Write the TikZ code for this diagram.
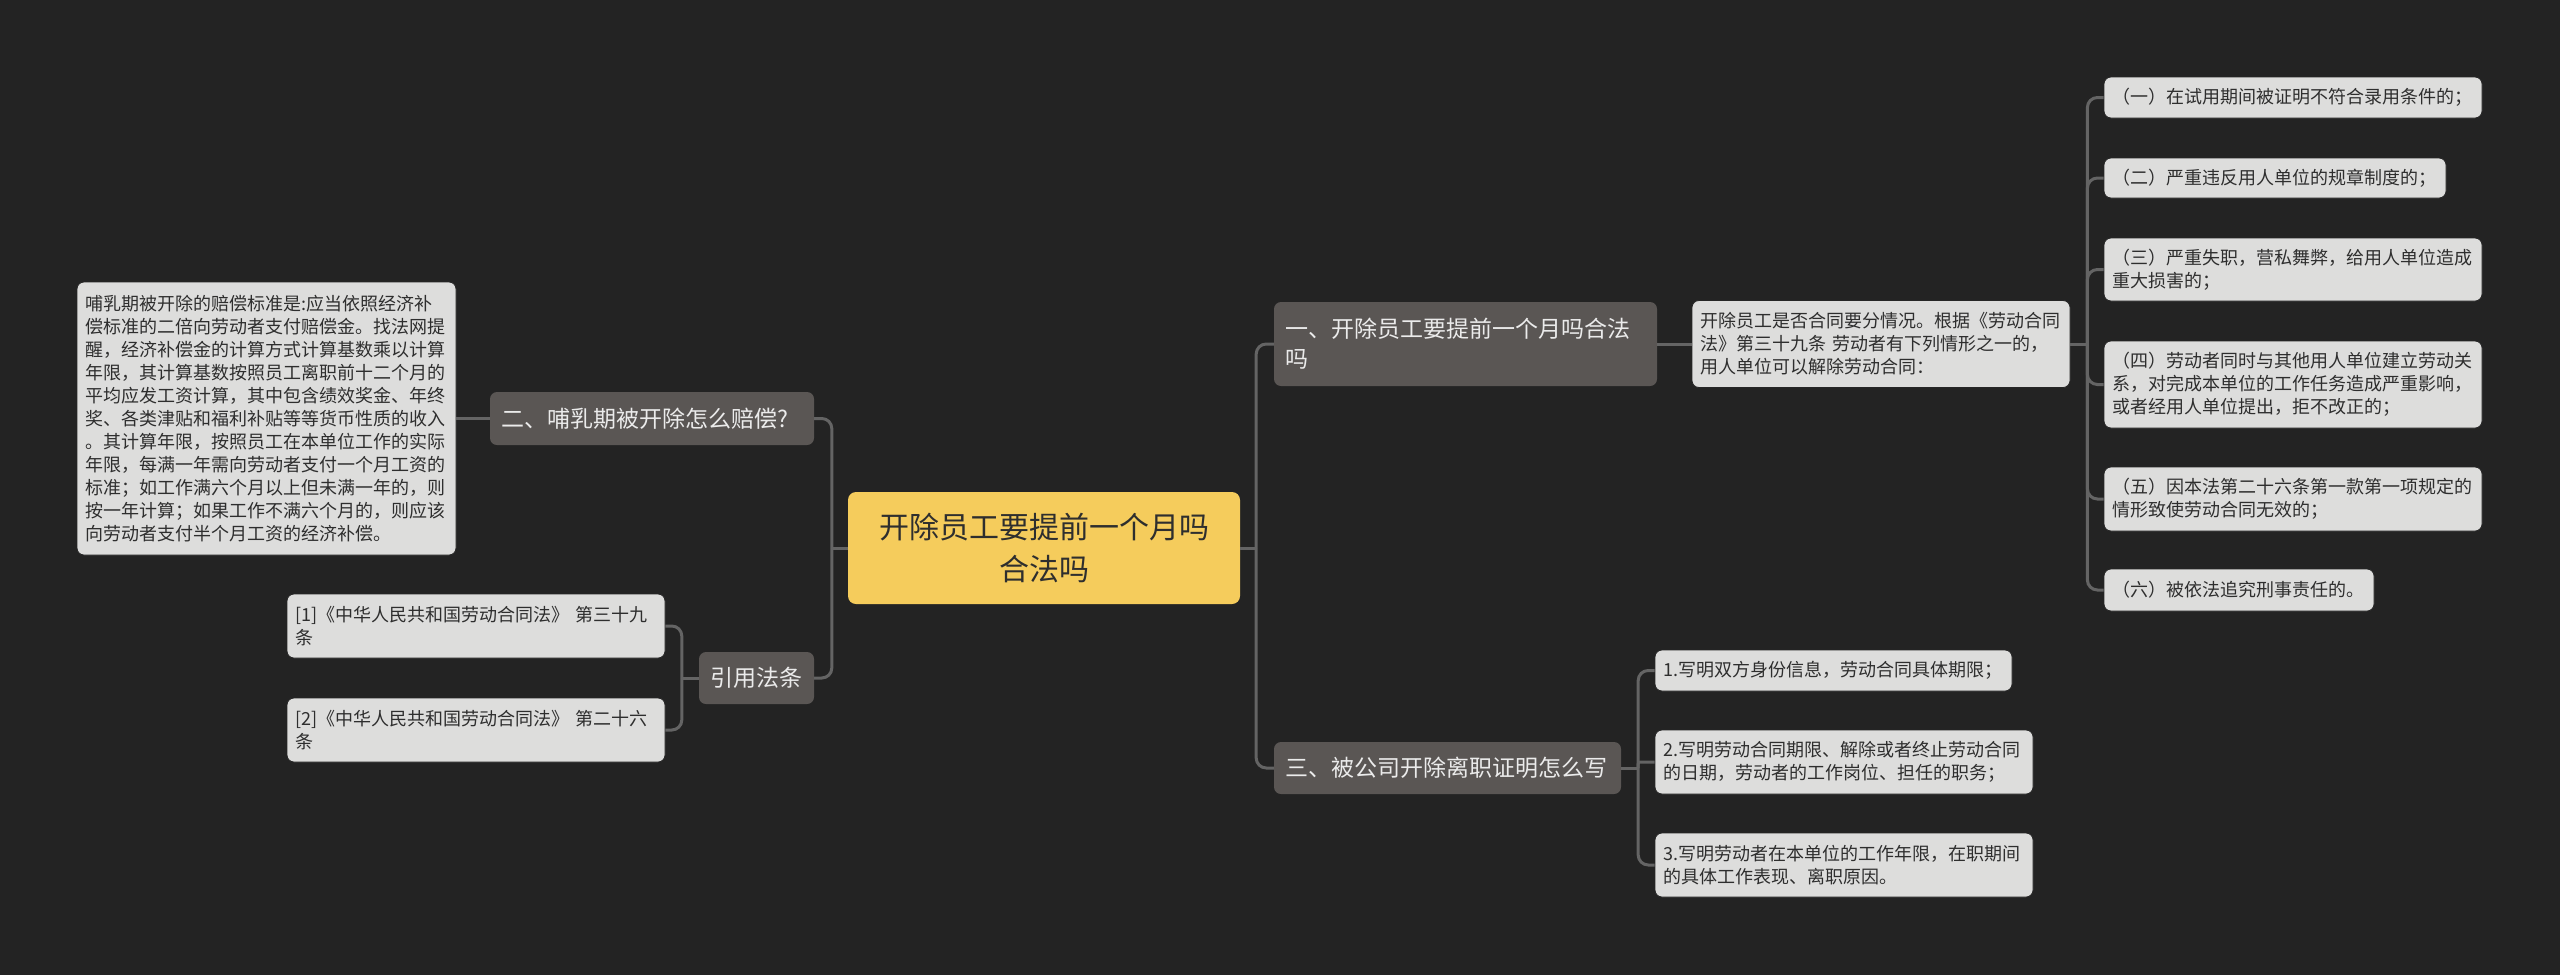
\documentclass[tikz,border=0pt]{standalone}
\usepackage{fontspec}
\newfontfamily\cjk{Noto Sans CJK SC}
\definecolor{canvas}{HTML}{232323}
\definecolor{wirec}{HTML}{646464}
\definecolor{hubc}{HTML}{F5CC5C}
\definecolor{branchc}{HTML}{5A5654}
\definecolor{notec}{HTML}{DDDDDC}
\definecolor{inkc}{HTML}{2E2E2E}

\begin{document}
\begin{tikzpicture}[
  x=1pt, y=-1pt,
  font=\cjk,
  wire/.style={draw=wirec, line width=3pt, rounded corners=10pt},
  hub/.style={fill=hubc, rounded corners=8pt, text=inkc, align=center,
    inner xsep=20pt, text width=352pt, minimum height=112pt,
    font=\cjk\fontsize{30}{42}\selectfont},
  branch/.style 2 args={fill=branchc, rounded corners=7pt, text=white!92!black,
    align=left, inner xsep=11pt, text width=#1, minimum height=#2,
    font=\cjk\fontsize{23}{30}\selectfont},
  note/.style 2 args={fill=notec, draw=black!85, line width=0.8pt,
    rounded corners=7pt, text=inkc, align=left, inner xsep=8pt,
    text width=#1, minimum height=#2, font=\cjk\fontsize{18}{23}\selectfont},
]
  % canvas
  \useasboundingbox (0,0) rectangle (2560,975);
  \fill[canvas] (0,0) rectangle (2560,975);

  % central topic
  \node[hub] (hub) at (1044,548) {开除员工要提前一个月吗\\合法吗};

  % right side: first topic and its clauses
  \node[branch={361pt}{84pt}] (s1) at (1465.5,344) {一、开除员工要提前一个月吗合法\\吗};
  \node[note={362pt}{87pt}] (s1d) at (1881,344)
    {开除员工是否合同要分情况。根据《劳动合同\\法》第三十九条~劳动者有下列情形之一的，\\用人单位可以解除劳动合同：};
  \node[note={362pt}{41pt}] (r1) at (2293,97.5) {（一）在试用期间被证明不符合录用条件的；};
  \node[note={326pt}{40pt}] (r2) at (2275,178) {（二）严重违反用人单位的规章制度的；};
  \node[note={362pt}{63pt}] (r3) at (2293,269.5) {（三）严重失职，营私舞弊，给用人单位造成\\重大损害的；};
  \node[note={362pt}{87pt}] (r4) at (2293,384.5)
    {（四）劳动者同时与其他用人单位建立劳动关\\系，对完成本单位的工作任务造成严重影响，\\或者经用人单位提出，拒不改正的；};
  \node[note={362pt}{64pt}] (r5) at (2293,499) {（五）因本法第二十六条第一款第一项规定的\\情形致使劳动合同无效的；};
  \node[note={254pt}{42pt}] (r6) at (2239,590) {（六）被依法追究刑事责任的。};

  % right side: third topic
  \node[branch={325pt}{52pt}] (s3) at (1447.5,768) {三、被公司开除离职证明怎么写};
  \node[note={341pt}{41pt}] (s3a) at (1833.5,670.5) {1.写明双方身份信息，劳动合同具体期限；};
  \node[note={362pt}{64pt}] (s3b) at (1844,762) {2.写明劳动合同期限、解除或者终止劳动合同\\的日期，劳动者的工作岗位、担任的职务；};
  \node[note={362pt}{64pt}] (s3c) at (1844,865) {3.写明劳动者在本单位的工作年限，在职期间\\的具体工作表现、离职原因。};

  % left side
  \node[branch={302pt}{53pt}] (s2) at (652,418.5) {二、哺乳期被开除怎么赔偿?};
  \node[note={363pt}{273pt}] (s2d) at (266.5,418.5)
    {哺乳期被开除的赔偿标准是:应当依照经济补\\偿标准的二倍向劳动者支付赔偿金。找法网提\\醒，经济补偿金的计算方式计算基数乘以计算\\年限，其计算基数按照员工离职前十二个月的\\平均应发工资计算，其中包含绩效奖金、年终\\奖、各类津贴和福利补贴等等货币性质的收入\\。其计算年限，按照员工在本单位工作的实际\\年限，每满一年需向劳动者支付一个月工资的\\标准；如工作满六个月以上但未满一年的，则\\按一年计算；如果工作不满六个月的，则应该\\向劳动者支付半个月工资的经济补偿。};
  \node[branch={93pt}{52pt}] (law) at (756.5,678) {引用法条};
  \node[note={362pt}{64pt}] (law1) at (476,626) {[1]《中华人民共和国劳动合同法》~第三十九\\条};
  \node[note={362pt}{64pt}] (law2) at (476,730) {[2]《中华人民共和国劳动合同法》~第二十六\\条};

  % junctions
  \coordinate (jr) at ([xshift=16pt]hub.east);
  \coordinate (jl) at ([xshift=-16pt]hub.west);
  \coordinate (j1) at ([xshift=17pt]s1d.east);
  \coordinate (j3) at ([xshift=17pt]s3.east);
  \coordinate (jlaw) at ([xshift=-17pt]law.west);

  % connectors
  \draw[wire] (hub.east) -- (jr);
  \draw[wire] (jr) |- (s1.west);
  \draw[wire] (jr) |- (s3.west);
  \draw[wire] (hub.west) -- (jl);
  \draw[wire] (jl) |- (s2.east);
  \draw[wire] (jl) |- (law.east);
  \draw[wire] (s1.east) -- (s1d.west);
  \draw[wire] (s1d.east) -- (j1);
  \foreach \n in {1,...,6}
    \draw[wire] (j1) |- (r\n.west);
  \draw[wire] (s3.east) -- (j3);
  \draw[wire] (j3) |- (s3a.west);
  \draw[wire, rounded corners=2pt] (j3) |- (s3b.west);
  \draw[wire] (j3) |- (s3c.west);
  \draw[wire] (s2.west) -- (s2d.east);
  \draw[wire] (law.west) -- (jlaw);
  \draw[wire] (jlaw) |- (law1.east);
  \draw[wire] (jlaw) |- (law2.east);
\end{tikzpicture}
\end{document}
